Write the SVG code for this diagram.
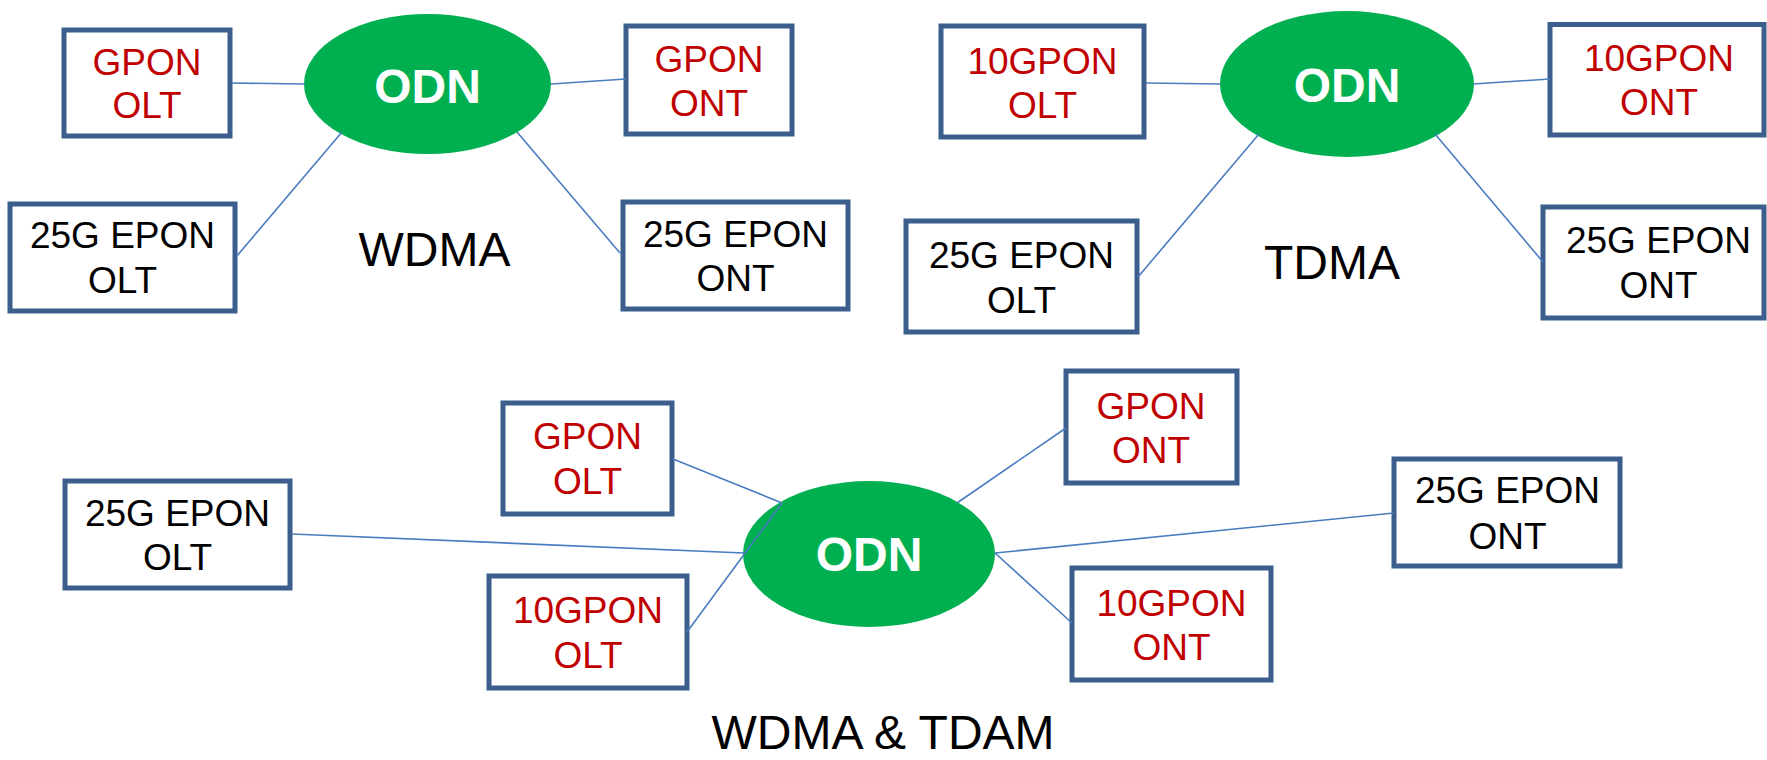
<svg xmlns="http://www.w3.org/2000/svg" width="1767" height="760" viewBox="0 0 1767 760">
<style>
.box{fill:#fff;stroke:#3B5E8C;stroke-width:5}
.odn{fill:#00B050}
.odnt{font-family:"Liberation Sans",Arial,sans-serif;font-weight:bold;font-size:48px;fill:#fff;text-anchor:middle}
.t{font-family:"Liberation Sans",Arial,sans-serif;font-size:37px;text-anchor:middle}
.red{fill:#C00000}
.blk{fill:#000}
.cap{font-family:"Liberation Sans",Arial,sans-serif;font-size:48px;fill:#000;text-anchor:middle}
.ln{stroke:#4A7CC0;stroke-width:1.6;fill:none}
</style>
<rect width="1767" height="760" fill="#fff"/>

<!-- Diagram 1: WDMA -->
<g id="odn1"><ellipse class="odn" cx="427.5" cy="84" rx="123.5" ry="70"/><text class="odnt" x="427.5" y="103">ODN</text></g>
<g id="gpon-olt-1"><rect class="box" x="64" y="30" width="166" height="106"/><text class="t red" x="147" y="75">GPON</text><text class="t red" x="147" y="118">OLT</text></g>
<g id="gpon-ont-1"><rect class="box" x="626" y="26" width="166" height="108"/><text class="t red" x="709" y="72">GPON</text><text class="t red" x="709" y="116">ONT</text></g>
<g id="epon-olt-1"><rect class="box" x="10" y="204" width="225" height="107"/><text class="t blk" x="122.5" y="248">25G EPON</text><text class="t blk" x="122.5" y="293">OLT</text></g>
<g id="epon-ont-1"><rect class="box" x="623" y="202" width="225" height="107"/><text class="t blk" x="735.5" y="247">25G EPON</text><text class="t blk" x="735.5" y="291">ONT</text></g>
<g id="label-wdma"><text class="cap" x="434.5" y="266">WDMA</text></g>

<!-- Diagram 2: TDMA -->
<g id="odn2"><ellipse class="odn" cx="1347" cy="84" rx="127" ry="73"/><text class="odnt" x="1347" y="102">ODN</text></g>
<g id="xgpon-olt-2"><rect class="box" x="941" y="26" width="203" height="111"/><text class="t red" x="1042.5" y="74">10GPON</text><text class="t red" x="1042.5" y="118">OLT</text></g>
<g id="xgpon-ont-2"><rect class="box" x="1550" y="24.5" width="214" height="110.5"/><text class="t red" x="1659" y="71">10GPON</text><text class="t red" x="1659" y="115">ONT</text></g>
<g id="epon-olt-2"><rect class="box" x="906" y="221" width="231" height="111"/><text class="t blk" x="1021.5" y="268">25G EPON</text><text class="t blk" x="1021.5" y="313">OLT</text></g>
<g id="epon-ont-2"><rect class="box" x="1543" y="207" width="221" height="111"/><text class="t blk" x="1658.5" y="253">25G EPON</text><text class="t blk" x="1658.5" y="298">ONT</text></g>
<g id="label-tdma"><text class="cap" x="1332" y="279">TDMA</text></g>

<!-- Diagram 3: WDMA & TDAM -->
<g id="odn3"><ellipse class="odn" cx="869" cy="554" rx="126" ry="73"/><text class="odnt" x="869" y="571">ODN</text></g>
<g id="gpon-olt-3"><rect class="box" x="503" y="403" width="169" height="111"/><text class="t red" x="587.5" y="449">GPON</text><text class="t red" x="587.5" y="494">OLT</text></g>
<g id="xgpon-olt-3"><rect class="box" x="489" y="576" width="198" height="112"/><text class="t red" x="588" y="623">10GPON</text><text class="t red" x="588" y="668">OLT</text></g>
<g id="epon-olt-3"><rect class="box" x="65" y="481" width="225" height="107"/><text class="t blk" x="177.5" y="526">25G EPON</text><text class="t blk" x="177.5" y="570">OLT</text></g>
<g id="gpon-ont-3"><rect class="box" x="1066" y="371" width="171" height="112"/><text class="t red" x="1151" y="419">GPON</text><text class="t red" x="1151" y="463">ONT</text></g>
<g id="xgpon-ont-3"><rect class="box" x="1072" y="568" width="199" height="112"/><text class="t red" x="1171.5" y="616">10GPON</text><text class="t red" x="1171.5" y="660">ONT</text></g>
<g id="epon-ont-3"><rect class="box" x="1394" y="459" width="226" height="107"/><text class="t blk" x="1507.5" y="503">25G EPON</text><text class="t blk" x="1507.5" y="549">ONT</text></g>
<g id="label-mixed"><text class="cap" x="883" y="749">WDMA &amp; TDAM</text></g>

<g id="connectors">
<line class="ln" x1="232" y1="83" x2="305" y2="84"/>
<line class="ln" x1="551" y1="84" x2="626" y2="79"/>
<line class="ln" x1="236" y1="257" x2="342" y2="132"/>
<line class="ln" x1="517" y1="132" x2="620" y2="253"/>
<line class="ln" x1="1146" y1="83" x2="1220" y2="84"/>
<line class="ln" x1="1473" y1="84" x2="1550" y2="79"/>
<line class="ln" x1="1138" y1="277" x2="1259" y2="134"/>
<line class="ln" x1="1435" y1="134" x2="1543" y2="262"/>
<line class="ln" x1="673" y1="459" x2="782" y2="503"/>
<line class="ln" x1="687" y1="632" x2="782" y2="503"/>
<line class="ln" x1="292" y1="534" x2="744" y2="553"/>
<line class="ln" x1="957" y1="503" x2="1066" y2="428"/>
<line class="ln" x1="995" y1="553" x2="1394" y2="513"/>
<line class="ln" x1="995" y1="553" x2="1072" y2="623"/>
</g>
</svg>
